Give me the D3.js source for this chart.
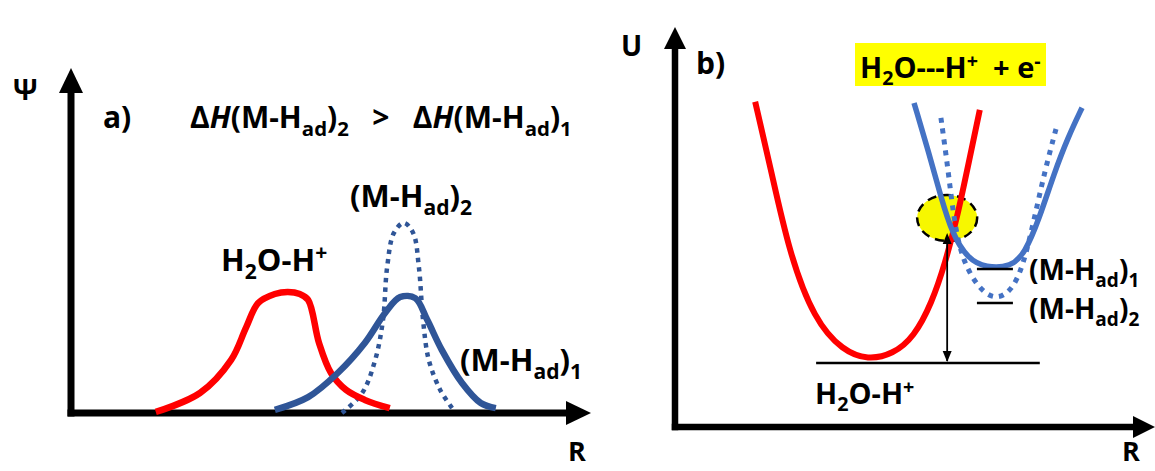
<!DOCTYPE html>
<html>
<head>
<meta charset="utf-8">
<script src="https://cdn.jsdelivr.net/npm/d3@7"></script>
<style>
  body { margin: 0; background: #fff; }
  svg text { font-family: "Open Sans", Lato, sans-serif; font-weight: bold; white-space: pre; }
</style>
</head>
<body>
<div id="chart"></div>
<script>
// panel a: wavefunctions along R (R in 0..10, psi in 0..1)
const redA = [[1.63,0.003],[2.48,0.058],[3.08,0.154],[3.37,0.249],[3.60,0.319],[3.92,0.345],[4.17,0.351],[4.40,0.345],[4.56,0.328],[4.77,0.203],[5.00,0.116],[5.29,0.067],[5.65,0.038],[6.13,0.014]]
const blueA1 = [[3.92,0.009],[4.56,0.046],[5.13,0.116],[5.65,0.203],[6.04,0.290],[6.33,0.336],[6.62,0.333],[6.85,0.270],[7.13,0.183],[7.52,0.087],[7.88,0.029],[8.17,0.014]]
const blueA2 = [[5.21,0.0],[5.60,0.058],[5.85,0.154],[6.00,0.270],[6.08,0.423],[6.21,0.522],[6.40,0.551],[6.58,0.522],[6.69,0.423],[6.77,0.270],[6.88,0.154],[7.10,0.067],[7.33,0.014]]

// panel b: potential energy curves (R in 0..10, U in 0..1)
const redB = [[1.67,0.813],[2.00,0.643],[2.38,0.435],[2.90,0.268],[3.50,0.190],[4.02,0.168],[4.54,0.182],[4.98,0.225],[5.35,0.310],[5.63,0.410],[5.88,0.525],[6.10,0.650],[6.35,0.793]]
const blueB1 = [[4.98,0.810],[5.29,0.685],[5.54,0.575],[5.77,0.485],[6.10,0.420],[6.48,0.398],[7.00,0.400],[7.29,0.435],[7.58,0.518],[7.90,0.635],[8.19,0.725],[8.48,0.798]]
const blueB2 = [[5.54,0.773],[5.69,0.643],[5.81,0.518],[5.98,0.418],[6.33,0.345],[6.67,0.318],[7.00,0.338],[7.25,0.400],[7.48,0.518],[7.71,0.643],[7.96,0.755]]

// energy levels [R start, R end, U]
const levels = [[2.94,7.60,0.160],[6.29,7.04,0.395],[6.29,7.04,0.310]]
const transition = [5.67, 0.160, 0.485]   // R, U from, U to
const crossing = [5.67, 0.5225]

const dms = { width: 1155, height: 471 }

const svg = d3.select('#chart').append('svg')
    .attr('width', dms.width)
    .attr('height', dms.height)

const xA = d3.scaleLinear().domain([0, 10]).range([71, 591])
const yA = d3.scaleLinear().domain([0, 1]).range([413, 68])
const xB = d3.scaleLinear().domain([0, 10]).range([675, 1155])
const yB = d3.scaleLinear().domain([0, 1]).range([427, 27])

const RED = '#ff0000'
const DARKBLUE = '#2f5597'
const BLUE = '#4472c4'

// rich text with sub / superscripts
function rich(g, x, y, parts, size) {
    const t = g.append('text').attr('x', x).attr('y', y).style('font-size', size + 'px')
    let cur = 0
    parts.forEach(p => {
        const off = p.s === 'sub' ? size * 0.25 : p.s === 'sup' ? -size * 0.35 : 0
        t.append('tspan')
            .attr('dy', off - cur)
            .style('font-size', (p.s ? size * 0.68 : size) + 'px')
            .style('font-style', p.i ? 'italic' : 'normal')
            .text(p.t)
        cur = off
    })
    return t
}

function axes(g, xs, ys, w, head, half) {
    const x0 = xs.range()[0], x1 = xs.range()[1]
    const y0 = ys.range()[0], y1 = ys.range()[1]
    g.append('line').attr('x1', x0).attr('y1', y0 + w / 2).attr('x2', x0).attr('y2', y1 + head - 2)
        .attr('stroke', '#000').attr('stroke-width', w)
    g.append('line').attr('x1', x0 - w / 2).attr('y1', y0).attr('x2', x1 - head + 2).attr('y2', y0)
        .attr('stroke', '#000').attr('stroke-width', w)
    g.append('path').attr('d', `M${x0},${y1}L${x0 - half},${y1 + head}L${x0 + half},${y1 + head}Z`)
    g.append('path').attr('d', `M${x1},${y0}L${x1 - head},${y0 - half}L${x1 - head},${y0 + half}Z`)
}

// ---------- panel a
const pa = svg.append('g').attr('id', 'panel-a')
axes(pa, xA, yA, 7, 25, 12)

const lineA = d3.line().x(d => xA(d[0])).y(d => yA(d[1])).curve(d3.curveCatmullRom.alpha(0.5))

pa.append('path').attr('d', lineA(blueA2)).attr('fill', 'none')
    .attr('stroke', DARKBLUE).attr('stroke-width', 4.5).attr('stroke-dasharray', '4.5 5')
pa.append('path').attr('d', lineA(redA)).attr('fill', 'none')
    .attr('stroke', RED).attr('stroke-width', 6.5)
pa.append('path').attr('d', lineA(blueA1)).attr('fill', 'none')
    .attr('stroke', DARKBLUE).attr('stroke-width', 6.5)

rich(pa, 13, 100, [{ t: 'Ψ' }], 28)
rich(pa, 103, 128, [{ t: 'a)' }], 30)
rich(pa, 190, 128, [
    { t: 'Δ' }, { t: 'H', i: true }, { t: '(M-H' }, { t: 'ad', s: 'sub' }, { t: ')' }, { t: '2', s: 'sub' },
    { t: '   >   ' },
    { t: 'Δ' }, { t: 'H', i: true }, { t: '(M-H' }, { t: 'ad', s: 'sub' }, { t: ')' }, { t: '1', s: 'sub' }
], 30)
rich(pa, 350, 207, [{ t: '(M-H' }, { t: 'ad', s: 'sub' }, { t: ')' }, { t: '2', s: 'sub' }], 31)
rich(pa, 221, 271, [{ t: 'H' }, { t: '2', s: 'sub' }, { t: 'O-H' }, { t: '+', s: 'sup' }], 31)
rich(pa, 460, 371, [{ t: '(M-H' }, { t: 'ad', s: 'sub' }, { t: ')' }, { t: '1', s: 'sub' }], 31)
rich(pa, 568, 461, [{ t: 'R' }], 27)

// ---------- panel b
const pb = svg.append('g').attr('id', 'panel-b')
axes(pb, xB, yB, 6.5, 22, 11)

const lineB = d3.line().x(d => xB(d[0])).y(d => yB(d[1])).curve(d3.curveBasis)

// highlight box behind the title
pb.append('rect').attr('x', 855).attr('y', 43).attr('width', 191).attr('height', 43).attr('fill', '#ffff00')
rich(pb, 860, 78, [{ t: 'H' }, { t: '2', s: 'sub' }, { t: 'O---H' }, { t: '+', s: 'sup' }, { t: '  + e' }, { t: '-', s: 'sup' }], 29)

// crossing point highlight
pb.append('ellipse').attr('cx', xB(crossing[0])).attr('cy', yB(crossing[1]))
    .attr('rx', 30).attr('ry', 23).attr('fill', '#f7f700')
    .attr('stroke', '#000').attr('stroke-width', 2.5).attr('stroke-dasharray', '9 6')

pb.append('path').attr('d', lineB(redB)).attr('fill', 'none')
    .attr('stroke', RED).attr('stroke-width', 6)
pb.append('path').attr('d', lineB(blueB2)).attr('fill', 'none')
    .attr('stroke', BLUE).attr('stroke-width', 5).attr('stroke-dasharray', '5 6')
pb.append('path').attr('d', lineB(blueB1)).attr('fill', 'none')
    .attr('stroke', BLUE).attr('stroke-width', 5.5)

pb.selectAll('line.level')
    .data(levels)
    .join('line')
    .attr('class', 'level')
    .attr('x1', d => xB(d[0])).attr('x2', d => xB(d[1]))
    .attr('y1', d => yB(d[2])).attr('y2', d => yB(d[2]))
    .attr('stroke', '#000').attr('stroke-width', 2.5)

// vertical transition arrow, heads on both ends
const ax = xB(transition[0]), ayLo = yB(transition[1]), ayHi = yB(transition[2])
pb.append('line').attr('x1', ax).attr('x2', ax).attr('y1', ayLo - 2).attr('y2', ayHi + 6)
    .attr('stroke', '#000').attr('stroke-width', 1.8)
pb.append('path').attr('d', `M${ax},${ayHi}L${ax - 4.5},${ayHi + 11}L${ax + 4.5},${ayHi + 11}Z`)
pb.append('path').attr('d', `M${ax},${ayLo - 1}L${ax - 4.5},${ayLo - 12}L${ax + 4.5},${ayLo - 12}Z`)

rich(pb, 621, 56, [{ t: 'U' }], 28)
rich(pb, 696, 74, [{ t: 'b)' }], 30)
rich(pb, 1029, 280, [{ t: '(M-H' }, { t: 'ad', s: 'sub' }, { t: ')' }, { t: '1', s: 'sub' }], 28)
rich(pb, 1029, 319, [{ t: '(M-H' }, { t: 'ad', s: 'sub' }, { t: ')' }, { t: '2', s: 'sub' }], 28)
rich(pb, 815, 404, [{ t: 'H' }, { t: '2', s: 'sub' }, { t: 'O-H' }, { t: '+', s: 'sup' }], 29)
rich(pb, 1122, 461, [{ t: 'R' }], 27)
</script>
</body>
</html>
